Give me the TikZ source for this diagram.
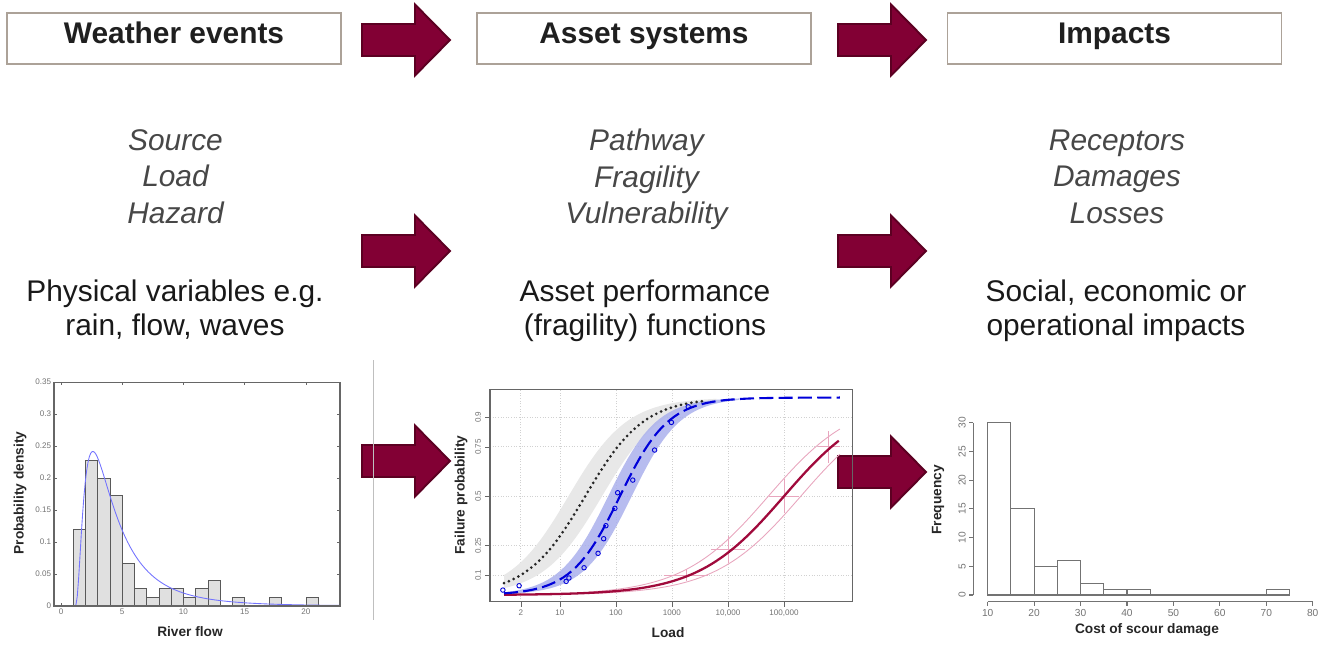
\documentclass[tikz,border=0pt]{standalone}
\usepackage{fontspec}
\setmainfont{Liberation Sans}
\usetikzlibrary{calc}

\definecolor{wine}{RGB}{130,0,52}
\definecolor{wineedge}{RGB}{92,0,34}
\definecolor{boxedge}{RGB}{172,162,152}
\definecolor{fitred}{RGB}{160,10,60}
\definecolor{cipink}{RGB}{232,166,190}
\definecolor{bandblue}{RGB}{170,176,236}
\definecolor{bandgray}{RGB}{232,232,232}

\begin{document}
\begin{tikzpicture}[x=0.02cm, y=-0.02cm,
    titlebox/.style={draw=boxedge, line width=0.9pt, fill=white, minimum width=6.68cm,
      minimum height=1.02cm, text height=13pt, text depth=7pt, inner ysep=0pt,
      font=\fontsize{17}{20}\selectfont\bfseries, text=black!88},
    keywords/.style={align=center, text depth=4pt, font=\fontsize{17}{20.7}\selectfont\itshape, text=black!72},
    desc/.style={align=center, text depth=4pt, font=\fontsize{17}{19.4}\selectfont, text=black!90},
    ticklab/.style={font=\fontsize{4.6}{5}\selectfont, text=black!55, inner sep=1.5pt},
    ticklabb/.style={font=\fontsize{5.8}{6}\selectfont, text=black!55, inner sep=1.5pt},
    axlab/.style={font=\fontsize{7.8}{9}\selectfont\bfseries, text=black!85},
    bigarrow/.pic={
      \draw[fill=wine, draw=wineedge, line width=1.1pt, line join=miter]
        (0,-16) -- (53,-16) -- (53,-35.5) -- (88,0) -- (53,35.5) -- (53,16) -- (0,16) -- cycle;
    },
    declare function={
      lnd(\t)=ln(\t-1.1)-1.045;
      lnpdf(\t)=exp(-lnd(\t)*lnd(\t)/1.28)/((\t-1.1)*2.005);
      lgs(\t,\m,\k)=1/(1+exp(-(\k)*((\t)-(\m))));
    }]
  \useasboundingbox (0,0) rectangle (1330,646);

  % headings
  \node[titlebox] (weather) at (174,38.5) {Weather events};
  \node[titlebox] (asset) at (644,38.5) {Asset systems};
  \node[titlebox] (impacts) at (1114.5,38.5) {Impacts};

  % block arrows
  \foreach \ax/\ay in {362/40, 838/40, 362/251, 838/251, 362/461, 838/472}
    \pic at (\ax,\ay) {bigarrow};

  % terms and descriptions
  \node[keywords] (srcterms) at (175.5,180) {Source\\Load\\Hazard};
  \node[keywords] (pathterms) at (646.5,180) {Pathway\\Fragility\\Vulnerability};
  \node[keywords] (recterms) at (1117,180) {Receptors\\Damages\\Losses};
  \node[desc] (physdesc) at (175,311) {Physical variables e.g.\\rain, flow, waves};
  \node[desc] (assetdesc) at (645,311) {Asset performance\\(fragility) functions};
  \node[desc] (impactdesc) at (1116,311) {Social, economic or\\operational impacts};

  \draw[black!25, line width=0.5pt] (373,360) -- (373,620);

  % river flow histogram
  \begin{scope}[shift={(61,606)}, x=0.245cm, y=12.8cm]
    \foreach \a/\h in {1/0.12, 2/0.227, 3/0.2, 4/0.173, 5/0.067, 6/0.027, 7/0.013, 8/0.027,
        9/0.027, 10/0.013, 11/0.027, 12/0.04, 14/0.013, 17/0.013, 20/0.013}
      \draw[fill=black!12, draw=black!65, line width=0.5pt] (\a,0) rectangle ++(1,\h);
    \draw[blue!55, line width=0.5pt] (0,0) -- (1.1,0)
      -- plot[domain=1.11:22.78, samples=200] (\x,{lnpdf(\x)});
    \draw[black!60, line width=0.6pt] (-0.57,0) rectangle (22.78,0.35);
    \foreach \v in {0,5,10,15,20} {
      \draw[black!60, line width=0.4pt] (\v,0) -- ++(0,0.005) (\v,0.35) -- ++(0,-0.005);
      \node[ticklab, below] at (\v,0) {\v};
    }
    \foreach \v in {0,0.05,0.1,0.15,0.2,0.25,0.3,0.35} {
      \draw[black!60, line width=0.4pt] (-0.57,\v) -- ++(0.25,0) (22.78,\v) -- ++(-0.25,0);
      \node[ticklab, left] at (-0.57,\v) {\v};
    }
  \end{scope}
  \node[axlab, rotate=90] (pdlabel) at (20,493) {Probability density};
  \node[axlab] (flowlabel) at (190,632) {River flow};

  % fragility curves
  \begin{scope}[shift={(504,595)}, x=1.12cm, y=3.95cm]
    \foreach \t in {0.301,1,2,3,4,5}
      \draw[black!18, densely dotted, line width=0.5pt] (\t,-0.035) -- (\t,1.043);
    \foreach \p in {0.1,0.25,0.5,0.75,0.9}
      \draw[black!18, densely dotted, line width=0.5pt] (-0.25,\p) -- (6.23,\p);
    \fill[bandgray] plot[domain=0:3.8, samples=60] (\x,{lgs(\x,1.15,1.9)})
      -- plot[domain=3.8:0, samples=60] (\x,{lgs(\x,1.75,1.9)}) -- cycle;
    \fill[bandblue, opacity=0.85] plot[domain=0:4.2, samples=60] (\x,{lgs(\x,1.86,2.3)})
      -- plot[domain=4.2:0, samples=60] (\x,{lgs(\x,2.28,2.3)}) -- cycle;
    % pink bounds
    \draw[cipink, line width=0.5pt] plot[domain=1.5:6.0, samples=60] (\x,{lgs(\x,4.72,1.3)});
    \draw[cipink, line width=0.5pt] plot[domain=1.5:6.0, samples=60] (\x,{lgs(\x,5.3,1.3)});
    \foreach \ct/\cp/\dt/\dp in {3.25/0.1/0.4/0.03, 4.0/0.23/0.3/0.07, 5.0/0.5/0.27/0.085, 5.8/0.75/0.2/0.08}
      \draw[cipink, line width=0.5pt] (\ct-\dt,\cp) -- (\ct+\dt,\cp) (\ct,\cp-\dp) -- (\ct,\cp+\dp);
    \draw[fitred, line width=1.3pt] plot[domain=0:5.98, samples=80] (\x,{lgs(\x,5.0,1.3)});
    \draw[black!85, line width=1.7pt, line cap=round, dash pattern=on 0pt off 3pt]
      plot[domain=0:3.6, samples=60] (\x,{lgs(\x,1.45,1.9)});
    \draw[blue!85!black, line width=1.2pt, dash pattern=on 8pt off 3pt]
      plot[domain=0:6.0, samples=80] (\x,{lgs(\x,2.07,2.3)});
    \foreach \pt/\pp in {-0.02/0.025, 0.27/0.047, 1.11/0.069, 1.16/0.086, 1.43/0.138, 1.68/0.211,
        1.78/0.285, 1.82/0.351, 1.98/0.439, 2.03/0.518, 2.30/0.582, 2.69/0.734, 2.99/0.874, 3.29/0.953}
      \draw[blue!85!black, line width=0.5pt] (\pt,\pp) circle[radius=0.045cm];
    \draw[black!60, line width=0.6pt] (-0.25,-0.035) rectangle (6.23,1.043);
    \foreach \t/\lab in {0.301/2, 1/10, 2/100, 3/1000, 4/{10,000}, 5/{100,000}} {
      \draw[black!60, line width=0.4pt] (\t,-0.035) -- ++(0,-0.025);
      \node[ticklab, below] at (\t,-0.06) {\lab};
    }
    \foreach \p in {0.1,0.25,0.5,0.75,0.9} {
      \draw[black!60, line width=0.4pt] (-0.25,\p) -- ++(-0.09,0);
      \node[ticklab, rotate=90, anchor=south] at (-0.36,\p) {\p};
    }
  \end{scope}
  \node[axlab, rotate=90] (fplabel) at (461,495) {Failure probability};
  \node[axlab] (loadlabel) at (668,633) {Load};

  % scour cost histogram
  \begin{scope}[shift={(941.3,595)}, x=0.09286cm, y=0.11488cm]
    \foreach \a/\h in {10/30, 15/15, 20/5, 25/6, 30/2, 35/1, 40/1, 70/1}
      \draw[black!55, line width=0.6pt] (\a,0) rectangle ++(5,\h);
    \draw[black!55, line width=0.6pt] (45,0) -- (70,0);
    \draw[black!55, line width=0.6pt] (10,-1.17) -- (80,-1.17);
    \foreach \v in {10,20,...,80} {
      \draw[black!55, line width=0.6pt] (\v,-1.17) -- (\v,-1.9);
      \node[ticklabb, below] at (\v,-1.9) {\v};
    }
    \draw[black!55, line width=0.6pt] (6.9,0) -- (6.9,30);
    \foreach \v in {0,5,...,30} {
      \draw[black!55, line width=0.6pt] (6.9,\v) -- (5.9,\v);
      \node[ticklabb, rotate=90, anchor=south] at (5.9,\v) {\v};
    }
  \end{scope}
  \node[axlab, rotate=90] (freqlabel) at (938,500) {Frequency};
  \node[axlab] (costlabel) at (1147,630) {Cost of scour damage};
\end{tikzpicture}
\end{document}
